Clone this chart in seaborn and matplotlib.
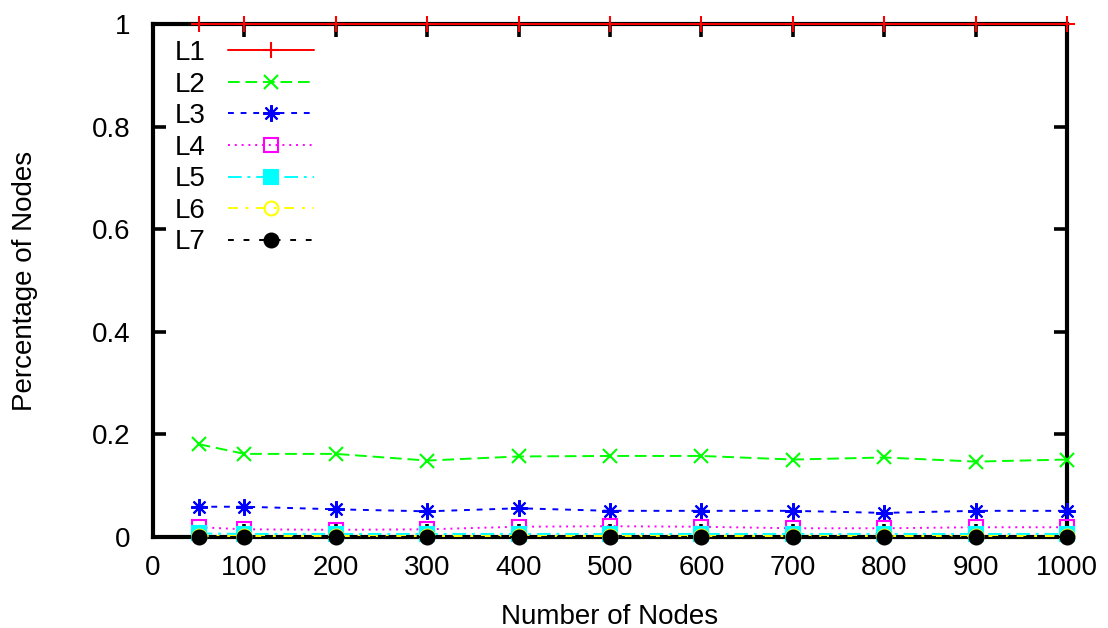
import matplotlib
matplotlib.use("Agg")
import matplotlib.pyplot as plt
import seaborn as sns
import pandas as pd
from matplotlib.lines import Line2D

nodes = [50, 100, 200, 300, 400, 500, 600, 700, 800, 900, 1000]
L1 = [1.0] * 11
L2 = [0.181, 0.162, 0.162, 0.149, 0.157, 0.158, 0.158, 0.151, 0.155, 0.147, 0.151]
L3 = [0.059, 0.059, 0.054, 0.050, 0.056, 0.051, 0.051, 0.051, 0.047, 0.051, 0.051]
L4 = [0.019, 0.015, 0.014, 0.015, 0.020, 0.021, 0.020, 0.017, 0.017, 0.019, 0.019]
L5 = [0.007, 0.006, 0.006, 0.006, 0.006, 0.006, 0.006, 0.006, 0.006, 0.006, 0.006]
L6 = [0.002, 0.002, 0.002, 0.002, 0.002, 0.002, 0.002, 0.002, 0.002, 0.002, 0.002]
L7 = [0.0] * 11

series = {"L1": L1, "L2": L2, "L3": L3, "L4": L4, "L5": L5, "L6": L6, "L7": L7}
x_ticks = [0, 100, 200, 300, 400, 500, 600, 700, 800, 900, 1000]
y_ticks = [0, 0.2, 0.4, 0.6, 0.8, 1.0]
y_tick_labels = ["0", "0.2", "0.4", "0.6", "0.8", "1"]

# gnuplot-like line types: colour, dash pattern, point type
styles = {
    "L1": dict(color="#ff0000", ls="-", marker="+", mfc="none", ms=12),
    "L2": dict(color="#00ff00", ls=(0, (6, 3)), marker="x", mfc="none", ms=10),
    "L3": dict(color="#0000ff", ls=(0, (3, 3.5)), marker=(8, 2, 0), mfc="none", ms=12),
    "L4": dict(color="#ff00ff", ls=(0, (1, 2.5)), marker="s", mfc="none", ms=10),
    "L5": dict(color="#00ffff", ls=(0, (7, 3, 1.5, 3)), marker="s", mfc="#00ffff", ms=10),
    "L6": dict(color="#ffff00", ls=(0, (5, 4, 1.5, 4)), marker="o", mfc="none", ms=10),
    "L7": dict(color="#000000", ls=(0, (3, 5)), marker="o", mfc="#000000", ms=10),
}
LW = 1.4
MEW = 1.5
FS = 20

df = pd.DataFrame({"nodes": nodes, **series})

sns.set_style("white")
plt.rcParams["font.family"] = ["Liberation Sans", "DejaVu Sans"]
plt.rcParams.update({"text.color": "black", "axes.labelcolor": "black",
                     "xtick.color": "black", "ytick.color": "black"})

fig = plt.figure(figsize=(11.08, 6.28), dpi=100)
ax = fig.add_axes([153 / 1108, 1 - 537 / 628, (1067 - 153) / 1108, (537 - 24) / 628])

handles = []
for name, st in styles.items():
    sns.lineplot(data=df, x="nodes", y=name, ax=ax, color=st["color"], linestyle=st["ls"],
                 linewidth=LW, marker=st["marker"], markersize=st["ms"],
                 markerfacecolor=st["mfc"], markeredgecolor=st["color"],
                 markeredgewidth=MEW, clip_on=False, legend=False, zorder=3)
    handles.append(Line2D([], [], color=st["color"], linestyle=st["ls"], linewidth=LW,
                          marker=st["marker"], markersize=st["ms"], markerfacecolor=st["mfc"],
                          markeredgecolor=st["color"], markeredgewidth=MEW, label=name))

ax.set_xlim(0, 1000)
ax.set_ylim(0, 1)
ax.set_xticks(x_ticks)
ax.set_xticklabels([str(t) for t in x_ticks])
ax.set_yticks(y_ticks)
ax.set_yticklabels(y_tick_labels)
ax.tick_params(direction="in", length=9.5, width=2.6, top=True, right=True,
               bottom=True, left=True, labelsize=FS, color="black")
ax.tick_params(axis="x", pad=13)
ax.tick_params(axis="y", pad=16)
for sp in ax.spines.values():
    sp.set_linewidth(3)
    sp.set_color("black")
    sp.set_zorder(2.5)

ax.set_xlabel("Number of Nodes", fontsize=FS)
ax.set_ylabel("Percentage of Nodes", fontsize=FS)
ax.xaxis.set_label_coords(0.5, -(604 - 537) / 513)
ax.yaxis.set_label_coords(-(153 - 38) / 914, 0.5)

leg = ax.legend(handles=handles, loc="upper left", markerfirst=False, frameon=False,
                fontsize=FS, handlelength=3.1, labelspacing=0.2, borderaxespad=0,
                borderpad=0, handletextpad=0.8,
                bbox_to_anchor=((175 - 153) / 914, 1 - (40 - 24) / 513))

fig.savefig("out.png", dpi=100)
